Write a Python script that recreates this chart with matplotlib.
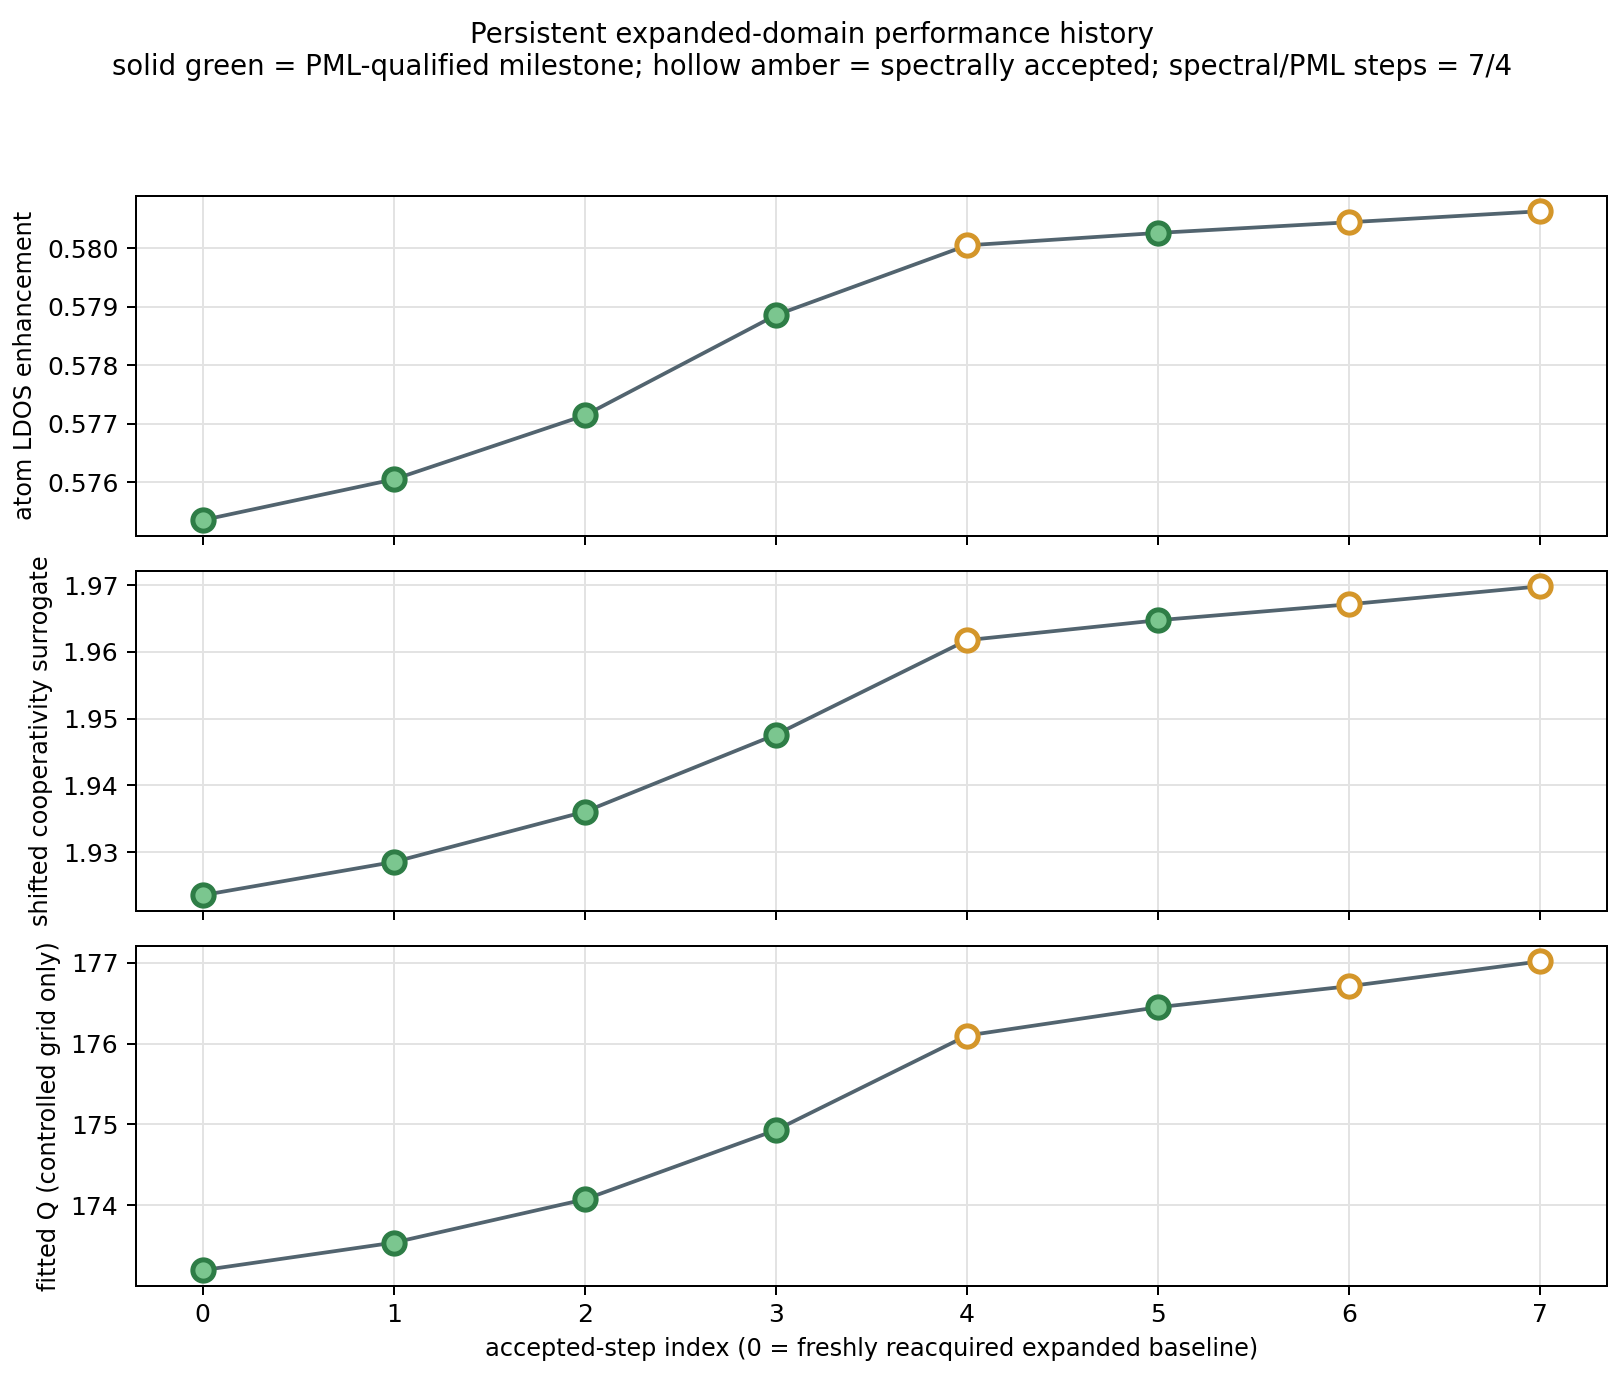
import numpy as np
import matplotlib
matplotlib.use("Agg")
import matplotlib.pyplot as plt

# accepted-step index and per-step metrics
steps = [0, 1, 2, 3, 4, 5, 6, 7]
pml_qualified = [True, True, True, True, False, True, False, False]
ldos = [0.575355, 0.576051, 0.577145, 0.578858, 0.580050, 0.580263, 0.580445, 0.580633]
coop = [1.92358, 1.92855, 1.93607, 1.94761, 1.96175, 1.96473, 1.96712, 1.96981]
fitted_q = [173.198, 173.539, 174.074, 174.930, 176.099, 176.449, 176.709, 177.016]

ylabels = ['atom LDOS enhancement', 'shifted cooperativity surrogate', 'fitted Q (controlled grid only)']
xlabel = 'accepted-step index (0 = freshly reacquired expanded baseline)'
title = ('Persistent expanded-domain performance history\n'
         'solid green = PML-qualified milestone; hollow amber = spectrally accepted; spectral/PML steps = 7/4')

LINE_COLOR = '#52646f'
GREEN_FACE = '#7bc68f'
GREEN_EDGE = '#2e7d46'
AMBER_EDGE = '#d4962a'

fig, axes = plt.subplots(3, 1, figsize=(1624 / 180, 1379 / 180), dpi=180, sharex=True)
fig.subplots_adjust(left=0.0837, right=0.9895, top=0.858, bottom=0.0677, hspace=0.104)

x = np.array(steps)
mask = np.array(pml_qualified)
for ax, vals, lab in zip(axes, [ldos, coop, fitted_q], ylabels):
    y = np.array(vals)
    ax.plot(x, y, color=LINE_COLOR, lw=1.5, zorder=2)
    # solid green = PML-qualified, hollow amber = spectrally accepted only
    ax.plot(x[mask], y[mask], 'o', ms=8.5, mfc=GREEN_FACE, mec=GREEN_EDGE, mew=2.0, ls='none', zorder=3)
    ax.plot(x[~mask], y[~mask], 'o', ms=8.5, mfc='white', mec=AMBER_EDGE, mew=2.0, ls='none', zorder=3)
    ax.set_ylabel(lab, fontsize=9.6)
    ax.grid(True, color='#e3e3e3', lw=0.8)
    ax.set_axisbelow(True)
    ax.tick_params(labelsize=10)

axes[0].set_yticks([0.576, 0.577, 0.578, 0.579, 0.580])
axes[1].set_yticks([1.93, 1.94, 1.95, 1.96, 1.97])
axes[2].set_yticks([174, 175, 176, 177])
axes[-1].set_xticks(steps)
axes[-1].set_xlabel(xlabel, fontsize=9.6)

fig.suptitle(title, fontsize=11, y=0.985, va='top')
fig.savefig('out.png', dpi=180)
